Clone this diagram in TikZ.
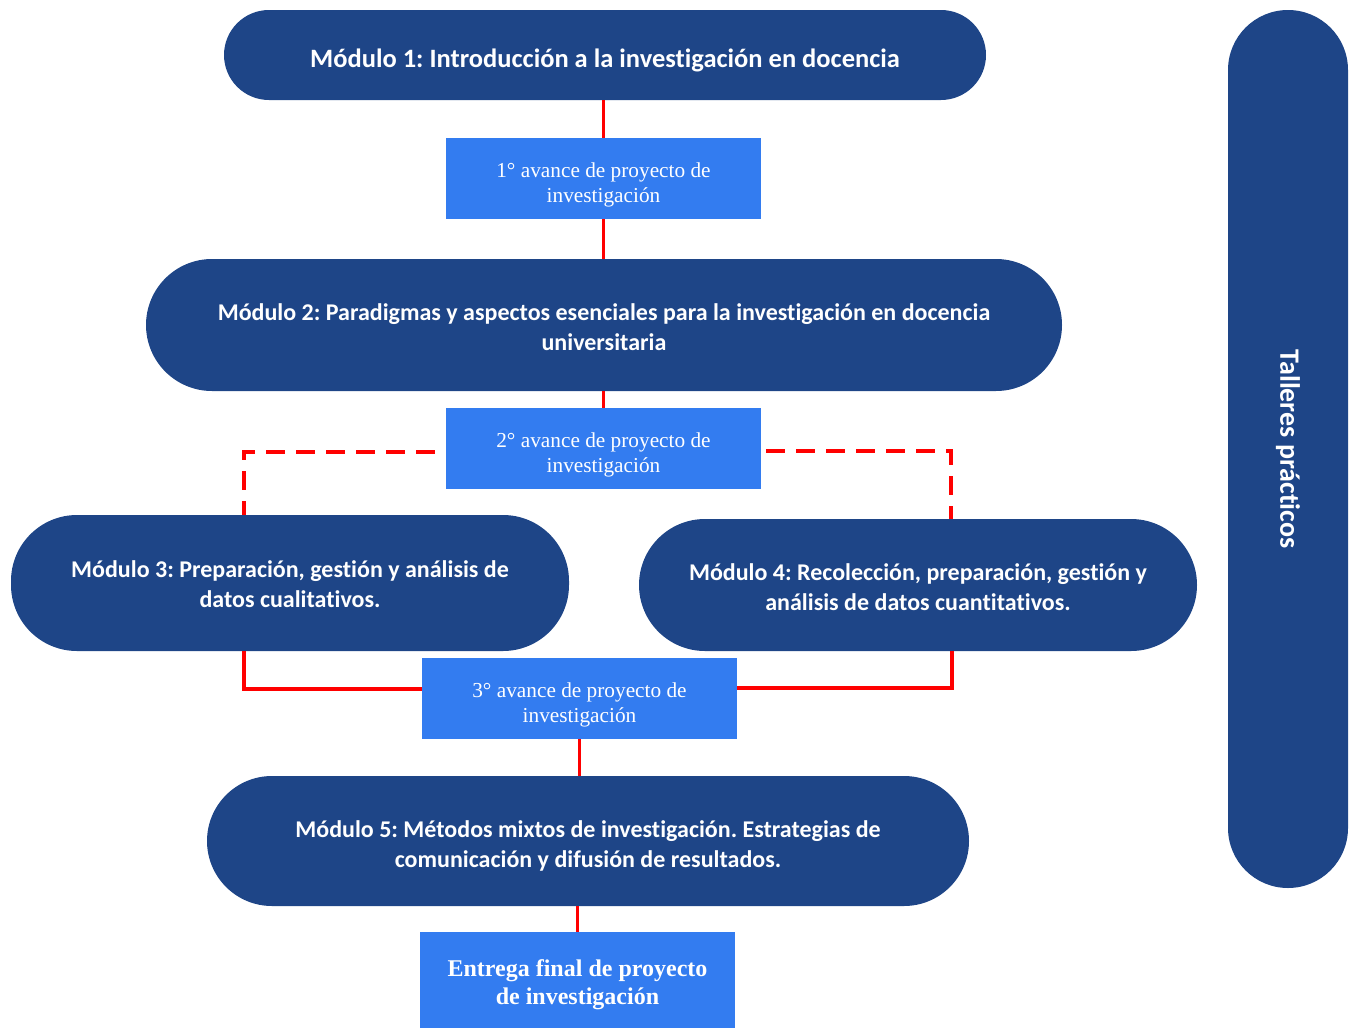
\documentclass[tikz,border=0pt]{standalone}
\usepackage{fontspec}
\setmainfont{Liberation Serif}
\newfontfamily\modfont[Ligatures=NoCommon]{Carlito}
\usetikzlibrary{calc}
\frenchspacing
\definecolor{darkblue}{RGB}{30,69,135}
\definecolor{lightblue}{RGB}{51,124,240}
\definecolor{redline}{RGB}{255,0,0}
\tikzset{
  modbox/.style={fill=darkblue, inner sep=0pt},
  modtext/.style={text=white, align=center, font=\modfont\bfseries\fontsize{24}{30}\selectfont, inner sep=0pt},
  advbox/.style={fill=lightblue, minimum width=315, minimum height=81, inner sep=0pt},
  advtext/.style={text=white, align=center, font=\fontsize{21.3}{25}\selectfont, inner sep=0pt},
  conn/.style={draw=redline, line width=3.5pt},
  dconn/.style={draw=redline, line width=3.5pt, dash pattern=on 19pt off 11pt},
}
\begin{document}
\begin{tikzpicture}[x=1pt,y=-1pt]
\useasboundingbox (0,0) rectangle (1353,1028);
% modules
\node[modbox, minimum width=762, minimum height=90, rounded corners=45] (m1) at (605,55) {};
\node[modtext, font=\modfont\bfseries\fontsize{26.5}{30}\selectfont] (m1t) at ($(m1.center)+(0,5)$) {Módulo 1: Introducción a la investigación en docencia};
\node[modbox, minimum width=916, minimum height=132, rounded corners=66] (m2) at (604,325) {};
\node[modtext] (m2t) at ($(m2.center)+(0,2)$) {Módulo 2: Paradigmas y aspectos esenciales para la investigación en docencia\\universitaria};
\node[modbox, minimum width=558, minimum height=136, rounded corners=66] (m3) at (290,583) {};
\node[modtext] (m3t) at ($(m3.center)+(0,1)$) {Módulo 3: Preparación, gestión y análisis de\\datos cualitativos.};
\node[modbox, minimum width=558, minimum height=132, rounded corners=66] (m4) at (918,585) {};
\node[modtext] (m4t) at ($(m4.center)+(0,2.5)$) {Módulo 4: Recolección, preparación, gestión y\\análisis de datos cuantitativos.};
\node[modbox, minimum width=762, minimum height=130, rounded corners=65] (m5) at (588,841) {};
\node[modtext] (m5t) at ($(m5.center)+(0,5)$) {Módulo 5: Métodos mixtos de investigación. Estrategias de\\comunicación y difusión de resultados.};
% side bar
\node[fill=darkblue, minimum width=120, minimum height=878, rounded corners=60, inner sep=0pt] (t) at (1288,449) {};
\node[text=white, font=\modfont\bfseries\fontsize{28}{32}\selectfont, rotate=-90] (tl) at (t.center) {Talleres prácticos};
% advance boxes
\node[advbox] (b1) at (603.5,178.5) {};
\node[advtext] (b1t) at ($(b1.center)+(0,6)$) {1° avance de proyecto de\\investigación};
\node[advbox] (b2) at (603.5,448.5) {};
\node[advtext] (b2t) at ($(b2.center)+(0,6)$) {2° avance de proyecto de\\investigación};
\node[advbox] (b3) at (579.5,698.5) {};
\node[advtext] (b3t) at ($(b3.center)+(0,6)$) {3° avance de proyecto de\\investigación};
\node[advbox, minimum height=96] (bf) at (577.5,980) {};
\node[advtext, font=\bfseries\fontsize{24}{28}\selectfont] (bft) at ($(bf.center)+(0,5)$) {Entrega final de proyecto\\de investigación};
% connectors
\draw[conn] (b1.north |- m1.south) -- (b1.north);
\draw[conn] (b1.south) -- (b1.south |- m2.north);
\draw[conn] (b2.north |- m2.south) -- (b2.north);
\draw[dconn] ($(b2.west)+(-11,3.5)$) -| ($(m3.north)+(-46,0)$);
\draw[dconn] ($(b2.east)+(5,2.5)$) -| ($(m4.north)+(33,0)$);
\draw[conn] ($(m3.south)+(-46,0)$) |- ($(b3.west)+(0,-9.5)$);
\draw[conn] ($(m4.south)+(34,0)$) |- ($(b3.east)+(0,-10.5)$);
\draw[conn] (b3.south) -- (b3.south |- m5.north);
\draw[conn] (bf.north |- m5.south) -- (bf.north);
\end{tikzpicture}
\end{document}
